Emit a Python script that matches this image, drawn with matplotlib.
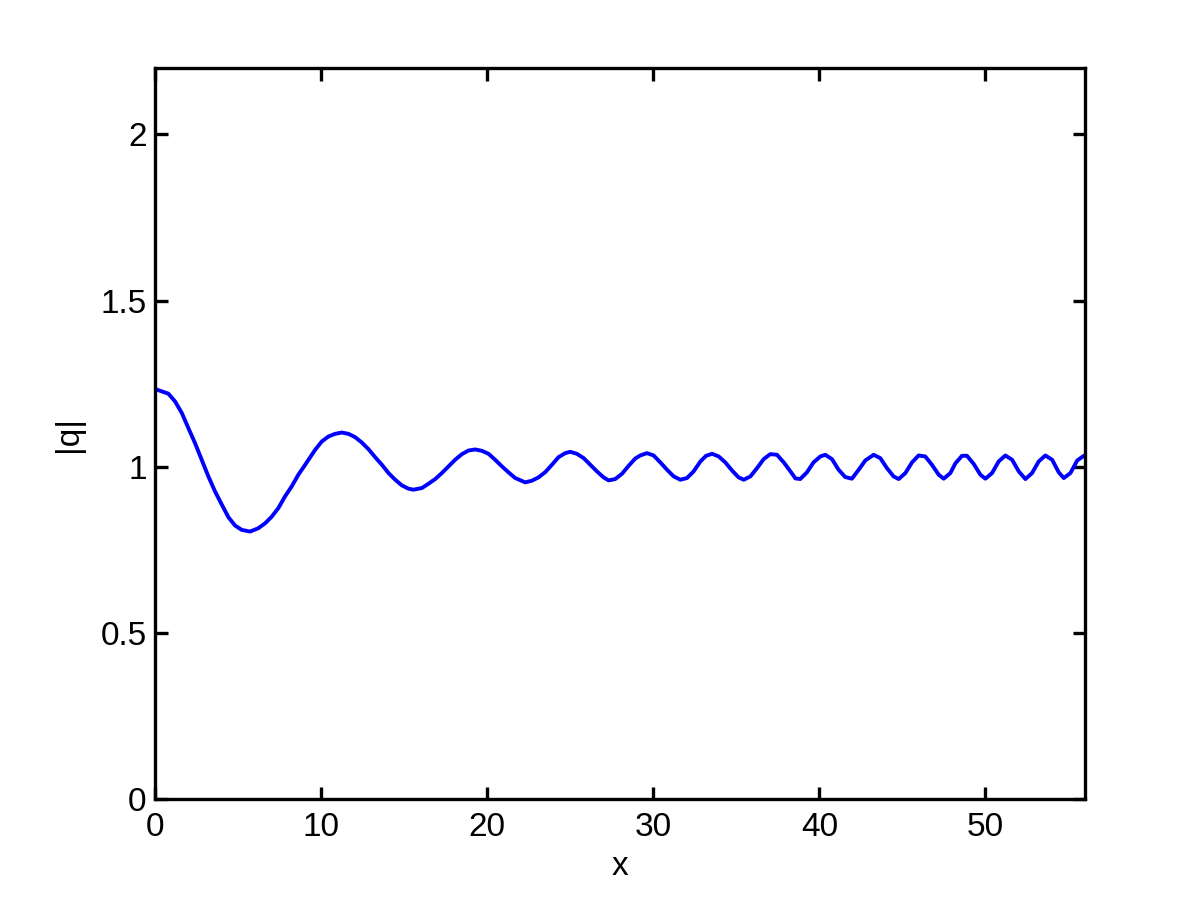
import numpy as np
import matplotlib
matplotlib.use('Agg')
import matplotlib.pyplot as plt

# values
x_vals = [0.0, 0.80, 1.20, 1.61, 2.01, 2.41, 2.81, 3.21, 3.61, 4.02, 4.42, 4.82, 5.22, 5.72,
          6.22, 6.63, 7.03, 7.43, 7.83, 8.23, 8.63, 9.04, 9.44, 9.64,
          10.04, 10.44, 10.84, 11.25, 11.65, 12.05, 12.45, 12.85, 13.25, 13.66, 14.06, 14.46,
          14.86, 15.26, 15.56, 16.07, 16.47, 16.87, 17.27, 17.67, 18.07, 18.48, 18.88, 19.28,
          19.68, 20.08, 20.48, 20.89, 21.29, 21.69, 22.29, 22.69, 23.09, 23.50, 23.90, 24.30,
          24.70, 25.00, 25.40, 25.81, 26.21, 26.61, 27.01, 27.31, 27.71, 28.12, 28.52, 28.92,
          29.22, 29.62, 30.02, 30.43, 30.83, 31.23, 31.63, 32.03, 32.43, 32.84, 33.18, 33.54,
          33.94, 34.34, 34.74, 35.14, 35.45, 35.85, 36.25, 36.65, 37.05, 37.45, 37.86, 38.26,
          38.56, 38.85, 39.25, 39.65, 40.06, 40.36, 40.76, 41.16, 41.56, 41.96, 42.37, 42.77,
          43.27, 43.67, 44.07, 44.47, 44.78, 45.18, 45.58, 45.98, 46.38, 46.78, 47.19, 47.49,
          47.89, 48.19, 48.59, 48.89, 49.29, 49.70, 50.00, 50.40, 50.80, 51.20, 51.61, 52.01,
          52.41, 52.81, 53.21, 53.61, 54.02, 54.42, 54.72, 55.12, 55.53, 55.93, 56.0]
q_vals = [1.234, 1.220, 1.197, 1.162, 1.116, 1.071, 1.021, 0.971, 0.926, 0.886, 0.848, 0.823,
          0.810, 0.805, 0.815, 0.830, 0.850, 0.876, 0.911, 0.941, 0.976, 1.006, 1.036, 1.051,
          1.076, 1.091, 1.099, 1.103, 1.099, 1.089, 1.073, 1.053, 1.029, 1.006, 0.981, 0.961,
          0.944, 0.934, 0.931, 0.936, 0.949, 0.963, 0.981, 1.001, 1.021, 1.038, 1.049, 1.052,
          1.048, 1.039, 1.021, 1.001, 0.983, 0.966, 0.953, 0.958, 0.968, 0.984, 1.006, 1.029,
          1.041, 1.045, 1.039, 1.026, 1.006, 0.986, 0.968, 0.959, 0.963, 0.979, 1.003, 1.025,
          1.034, 1.041, 1.034, 1.013, 0.991, 0.971, 0.961, 0.966, 0.986, 1.016, 1.033, 1.039,
          1.031, 1.013, 0.989, 0.968, 0.961, 0.971, 0.996, 1.023, 1.038, 1.036, 1.013, 0.986,
          0.965, 0.963, 0.983, 1.013, 1.031, 1.036, 1.023, 0.991, 0.969, 0.964, 0.991, 1.019,
          1.036, 1.026, 0.996, 0.971, 0.963, 0.981, 1.013, 1.034, 1.031, 1.006, 0.976, 0.964,
          0.981, 1.010, 1.033, 1.033, 1.009, 0.976, 0.964, 0.981, 1.016, 1.034, 1.021, 0.986,
          0.963, 0.981, 1.016, 1.034, 1.021, 0.983, 0.966, 0.981, 1.019, 1.033, 1.034]

plt.rcParams['font.family'] = ['Liberation Sans', 'DejaVu Sans']

fig = plt.figure(figsize=(12, 9), dpi=100)
ax = fig.add_axes([0.1292, 0.1122, 0.775, 0.8122])
ax.plot(x_vals, q_vals, color='#0000ff', linewidth=2.8,
        solid_joinstyle='round', solid_capstyle='round')

ax.set_xlim(0, 56)
ax.set_ylim(0, 2.2)
ax.set_xticks([0, 10, 20, 30, 40, 50])
ax.set_yticks([0, 0.5, 1, 1.5, 2])
ax.set_yticklabels(['0', '0.5', '1', '1.5', '2'])
ax.tick_params(direction='in', length=9, width=2.4, labelsize=24, pad=6,
               top=True, right=True)
ax.tick_params(axis='x', pad=9)
for s in ax.spines.values():
    s.set_linewidth(2.4)
ax.set_xlabel('x', fontsize=24, labelpad=6)
ax.set_ylabel('|q|', fontsize=24, labelpad=12)

fig.savefig('out.png', dpi=100)
